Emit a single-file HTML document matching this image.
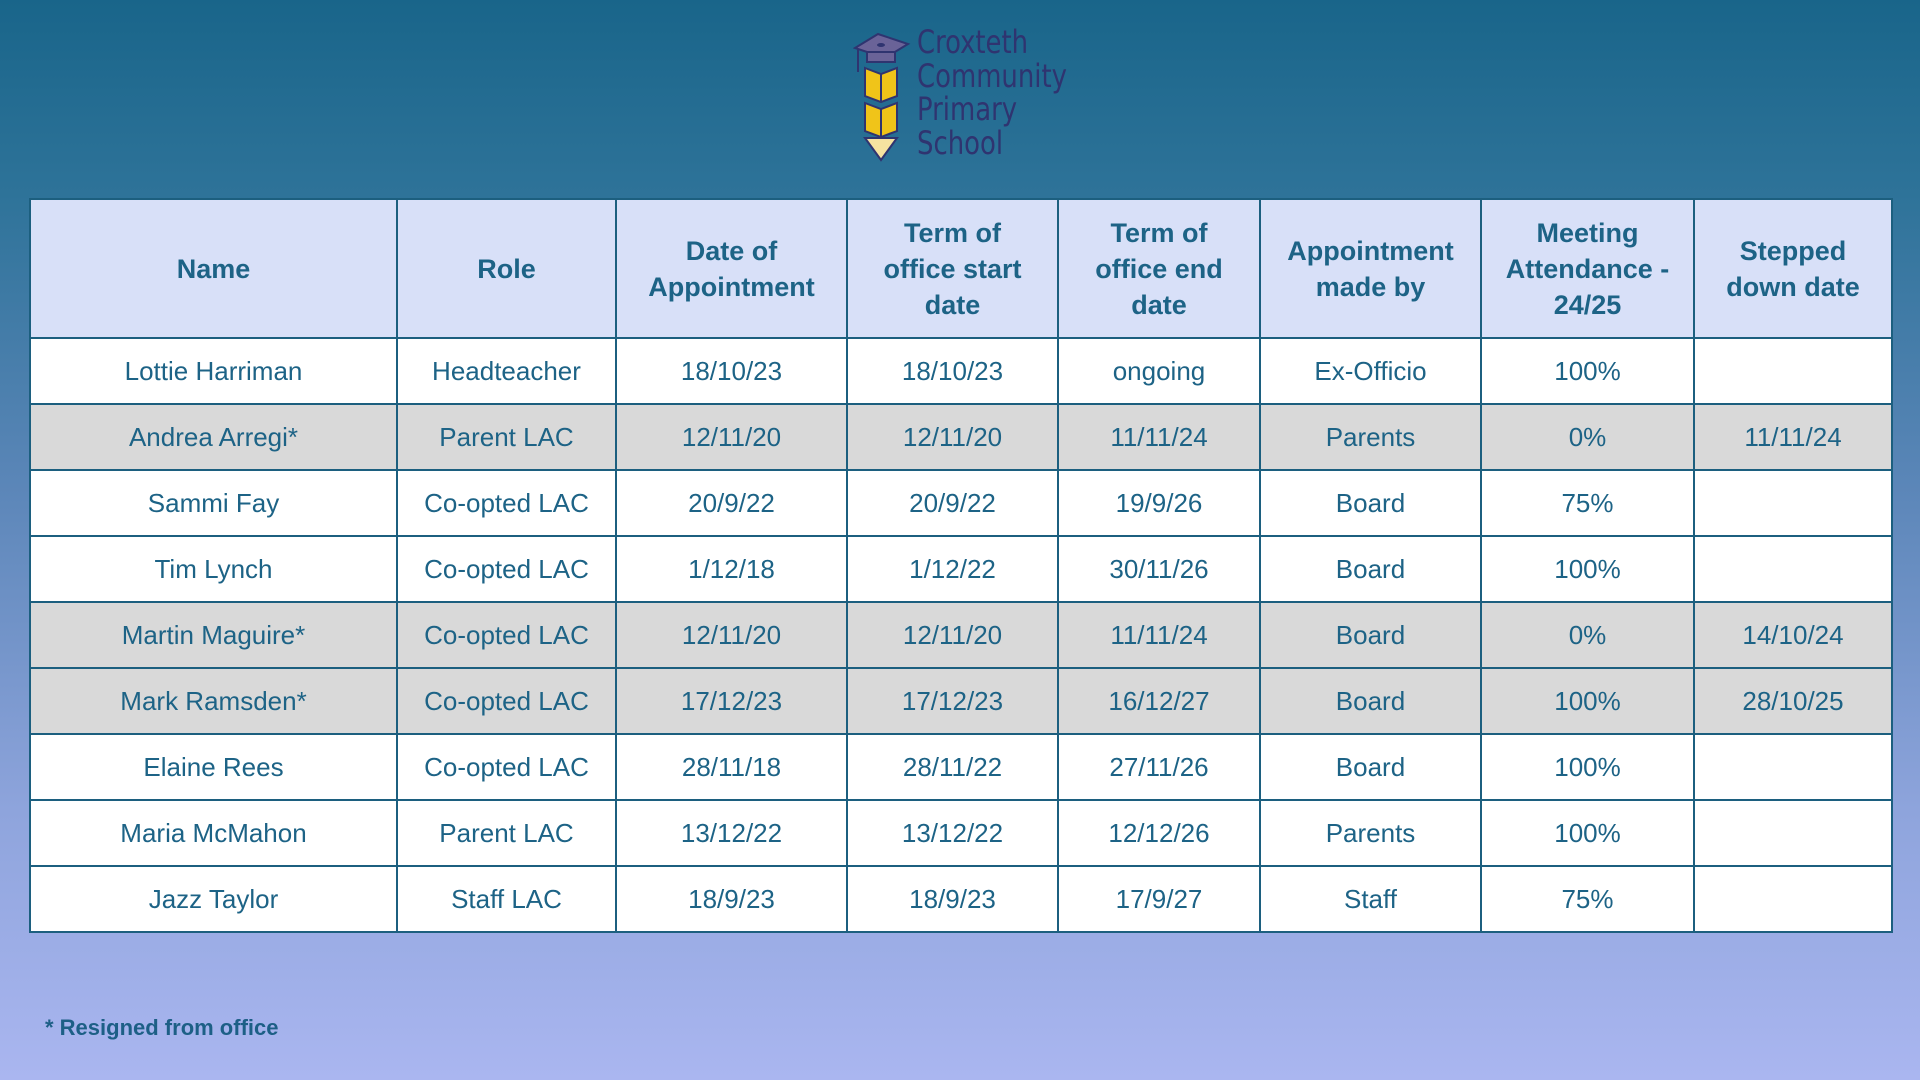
<!DOCTYPE html>
<html><head><meta charset="utf-8"><style>
html,body{margin:0;padding:0}
body{width:1920px;height:1080px;overflow:hidden;position:relative;font-family:"Liberation Sans",sans-serif;
background:linear-gradient(180deg,#19658a 0%,#2e7399 18%,#5b86b8 45%,#8ea4dc 75%,#aab6f0 100%);}
table{position:absolute;left:29px;top:198px;border-collapse:collapse;table-layout:fixed;width:1862px;}
td,th{border:2px solid #1c5f7f;text-align:center;color:#1d6386;padding:0;}
th{background:#d8e0f8;height:137px;font-weight:bold;font-size:27px;line-height:36px;}
td{height:64px;font-size:26px;background:#fff;}
tr.g td{background:#d9d9d9;}
.logo{position:absolute;left:853px;top:28px;width:220px;height:135px}
.lt{position:absolute;left:917px;top:26px;font-family:"DejaVu Sans Condensed","DejaVu Sans",sans-serif;font-size:32px;line-height:33.5px;color:#2f3470;transform:scaleX(0.9);transform-origin:left top}
.foot{position:absolute;left:45px;top:1015px;font-weight:bold;font-size:22px;color:#1d5f86}
</style></head><body>
<svg class="logo" viewBox="0 0 220 135" width="220" height="135">
<polygon points="2,20 25,6 55,16 32,30" fill="#6a6398" stroke="#2f3470" stroke-width="2"/>
<rect x="14" y="24" width="28" height="10" fill="#6a6398" stroke="#2f3470" stroke-width="2"/>
<ellipse cx="28" cy="17" rx="4" ry="2" fill="#2f3470"/>
<line x1="5" y1="21" x2="5" y2="44" stroke="#2f3470" stroke-width="2"/>
<polygon points="12,40 28,46 44,40 44,68 28,74 12,68" fill="#f0c419" stroke="#2f3470" stroke-width="2"/>
<line x1="28" y1="46" x2="28" y2="74" stroke="#2f3470" stroke-width="2"/>
<polygon points="12,75 28,81 44,75 44,103 28,109 12,103" fill="#f0c419" stroke="#2f3470" stroke-width="2"/>
<line x1="28" y1="81" x2="28" y2="109" stroke="#2f3470" stroke-width="2"/>
<polygon points="12,110 44,110 28,132" fill="#f6e3a0" stroke="#2f3470" stroke-width="2"/>
</svg>
<div class="lt">Croxteth<br>Community<br>Primary<br>School</div>
<table>
<colgroup><col style="width:367px"><col style="width:219px"><col style="width:231px"><col style="width:211px"><col style="width:202px"><col style="width:221px"><col style="width:213px"><col style="width:198px"></colgroup>
<tr><th>Name</th><th>Role</th><th>Date of<br>Appointment</th><th>Term of<br>office start<br>date</th><th>Term of<br>office end<br>date</th><th>Appointment<br>made by</th><th>Meeting<br>Attendance -<br>24/25</th><th>Stepped<br>down date</th></tr>
<tr><td>Lottie Harriman</td><td>Headteacher</td><td>18/10/23</td><td>18/10/23</td><td>ongoing</td><td>Ex-Officio</td><td>100%</td><td></td></tr>
<tr class="g"><td>Andrea Arregi*</td><td>Parent LAC</td><td>12/11/20</td><td>12/11/20</td><td>11/11/24</td><td>Parents</td><td>0%</td><td>11/11/24</td></tr>
<tr><td>Sammi Fay</td><td>Co-opted LAC</td><td>20/9/22</td><td>20/9/22</td><td>19/9/26</td><td>Board</td><td>75%</td><td></td></tr>
<tr><td>Tim Lynch</td><td>Co-opted LAC</td><td>1/12/18</td><td>1/12/22</td><td>30/11/26</td><td>Board</td><td>100%</td><td></td></tr>
<tr class="g"><td>Martin Maguire*</td><td>Co-opted LAC</td><td>12/11/20</td><td>12/11/20</td><td>11/11/24</td><td>Board</td><td>0%</td><td>14/10/24</td></tr>
<tr class="g"><td>Mark Ramsden*</td><td>Co-opted LAC</td><td>17/12/23</td><td>17/12/23</td><td>16/12/27</td><td>Board</td><td>100%</td><td>28/10/25</td></tr>
<tr><td>Elaine Rees</td><td>Co-opted LAC</td><td>28/11/18</td><td>28/11/22</td><td>27/11/26</td><td>Board</td><td>100%</td><td></td></tr>
<tr><td>Maria McMahon</td><td>Parent LAC</td><td>13/12/22</td><td>13/12/22</td><td>12/12/26</td><td>Parents</td><td>100%</td><td></td></tr>
<tr><td>Jazz Taylor</td><td>Staff LAC</td><td>18/9/23</td><td>18/9/23</td><td>17/9/27</td><td>Staff</td><td>75%</td><td></td></tr>
</table>
<div class="foot">* Resigned from office</div>
</body></html>
